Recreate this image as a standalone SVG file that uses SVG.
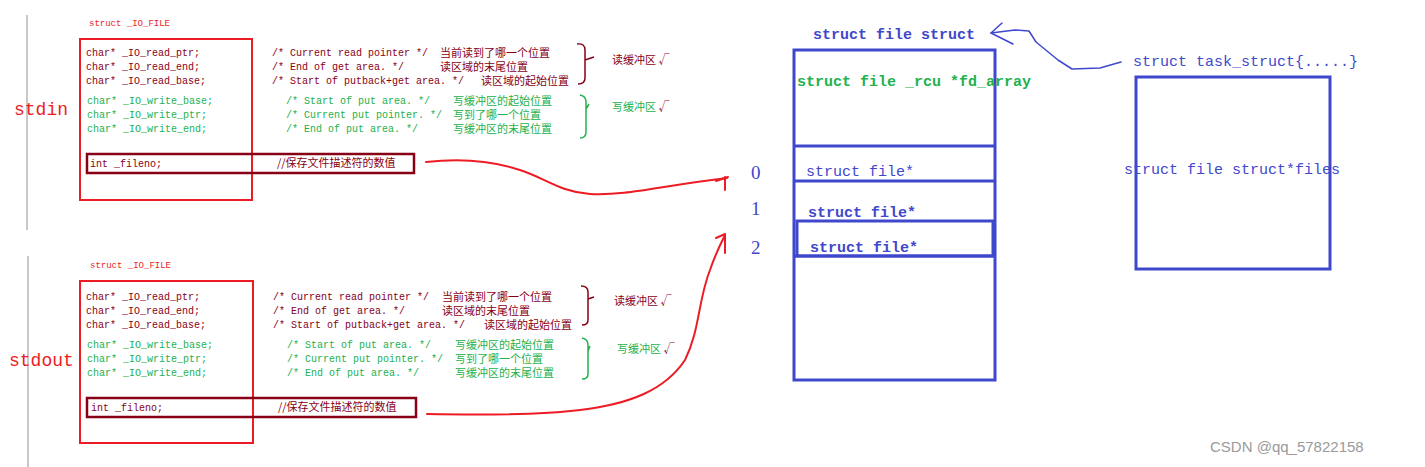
<svg xmlns="http://www.w3.org/2000/svg" width="1425" height="467" viewBox="0 0 1425 467">
<style>
.m{font-family:"Liberation Mono","DejaVu Sans Mono",monospace;font-size:10px}
.c{font-family:"Noto Sans CJK SC",sans-serif;font-size:11px}
.dr{fill:#880015}.g{fill:#22b14c}.r{fill:#ed1c24}.b{fill:#3f48cc}
.big{font-family:"Liberation Mono",monospace;font-size:18px}
.bl{font-family:"Liberation Mono",monospace;font-size:15px;fill:#3f48cc}
.num{font-family:"Liberation Serif",serif;font-size:19px;fill:#3f48cc}
.rbox{fill:none;stroke:#ed1c24;stroke-width:2}
.dbox{fill:none;stroke:#880015;stroke-width:2.5}
.bbox{fill:none;stroke:#3f48cc;stroke-width:3}
.rl{fill:none;stroke:#ed1c24;stroke-width:2;stroke-linecap:round;stroke-linejoin:round}
.blue{fill:none;stroke:#3f48cc;stroke-width:1.5;stroke-linecap:round;stroke-linejoin:round}
.brd{fill:none;stroke:#880015;stroke-width:1.5}
.brg{fill:none;stroke:#22b14c;stroke-width:1.5}
</style>
<rect width="1425" height="467" fill="#ffffff"/>
<line x1="27" y1="15" x2="27" y2="230" stroke="#c8c8c8" stroke-width="2"/>
<line x1="28" y1="256" x2="28" y2="467" stroke="#c8c8c8" stroke-width="2"/>

<g id="stdin">
<text x="14" y="115" class="big r">stdin</text>
<text x="89" y="26" class="m r" style="font-size:9px">struct _IO_FILE</text>
<rect x="80" y="39" width="172" height="161" class="rbox"/>
<text x="86" y="56" class="m dr">char* _IO_read_ptr;</text>
<text x="86" y="70" class="m dr">char* _IO_read_end;</text>
<text x="86" y="84" class="m dr">char* _IO_read_base;</text>
<text x="87" y="104" class="m g">char* _IO_write_base;</text>
<text x="87" y="118" class="m g">char* _IO_write_ptr;</text>
<text x="87" y="132" class="m g">char* _IO_write_end;</text>
<rect x="87" y="154" width="327" height="19" class="dbox"/>
<text x="90" y="167" class="m dr">int _fileno;</text>
<text x="277" y="167" class="c dr">//保存文件描述符的数值</text>
<text x="272" y="56" class="m dr">/* Current read pointer */</text>
<text x="272" y="70" class="m dr">/* End of get area. */</text>
<text x="272" y="84" class="m dr">/* Start of putback+get area. */</text>
<text x="440" y="57" class="c dr">当前读到了哪一个位置</text>
<text x="440" y="71" class="c dr">读区域的末尾位置</text>
<text x="481" y="85" class="c dr">读区域的起始位置</text>
<text x="286" y="104" class="m g">/* Start of put area. */</text>
<text x="286" y="118" class="m g">/* Current put pointer. */</text>
<text x="286" y="132" class="m g">/* End of put area. */</text>
<text x="453" y="105" class="c g">写缓冲区的起始位置</text>
<text x="453" y="119" class="c g">写到了哪一个位置</text>
<text x="453" y="133" class="c g">写缓冲区的末尾位置</text>
<path d="M577,44 Q585,43 585,50 L585,78 Q585,84 578,84 M585,60 L594,57" class="brd"/>
<path d="M580,95 Q586,96 586,102 L586,132 Q586,138 580,138 M586,109 L589,104" class="brg"/>
<text x="612" y="64" class="c dr">读缓冲区 √</text>
<text x="612" y="111" class="c g">写缓冲区 <tspan class="dr">√</tspan></text>
</g>

<g id="stdout">
<text x="9" y="366" class="big r">stdout</text>
<text x="90" y="268" class="m r" style="font-size:9px">struct _IO_FILE</text>
<rect x="80" y="281" width="173" height="162" class="rbox"/>
<text x="86" y="300" class="m dr">char* _IO_read_ptr;</text>
<text x="86" y="314" class="m dr">char* _IO_read_end;</text>
<text x="86" y="328" class="m dr">char* _IO_read_base;</text>
<text x="87" y="348" class="m g">char* _IO_write_base;</text>
<text x="87" y="362" class="m g">char* _IO_write_ptr;</text>
<text x="87" y="376" class="m g">char* _IO_write_end;</text>
<rect x="87" y="398" width="329" height="19" class="dbox"/>
<text x="91" y="411" class="m dr">int _fileno;</text>
<text x="278" y="411" class="c dr">//保存文件描述符的数值</text>
<text x="273" y="300" class="m dr">/* Current read pointer */</text>
<text x="273" y="314" class="m dr">/* End of get area. */</text>
<text x="273" y="328" class="m dr">/* Start of putback+get area. */</text>
<text x="442" y="301" class="c dr">当前读到了哪一个位置</text>
<text x="442" y="315" class="c dr">读区域的末尾位置</text>
<text x="484" y="329" class="c dr">读区域的起始位置</text>
<text x="287" y="348" class="m g">/* Start of put area. */</text>
<text x="287" y="362" class="m g">/* Current put pointer. */</text>
<text x="287" y="376" class="m g">/* End of put area. */</text>
<text x="455" y="349" class="c g">写缓冲区的起始位置</text>
<text x="455" y="363" class="c g">写到了哪一个位置</text>
<text x="455" y="377" class="c g">写缓冲区的末尾位置</text>
<path d="M581,286 Q588,286 588,292 L588,320 Q588,325 582,325 M588,299 L594,297" class="brd"/>
<path d="M582,338 Q588,339 588,345 L588,374 Q588,379 582,379 M588,351 L590,346" class="brg"/>
<text x="614" y="305" class="c dr">读缓冲区 √</text>
<text x="617" y="353" class="c g">写缓冲区 <tspan class="dr">√</tspan></text>
</g>

<g id="files_struct">
<text x="813" y="39" class="bl" style="font-weight:bold">struct file struct</text>
<rect x="794" y="50" width="201" height="330" class="bbox"/>
<text x="797" y="86" class="bl" style="fill:#22b14c;font-weight:bold">struct file _rcu *fd_array</text>
<line x1="794" y1="146" x2="995" y2="146" class="bbox"/>
<line x1="794" y1="181" x2="995" y2="181" class="bbox"/>
<rect x="797" y="221" width="196" height="35" class="bbox"/>
<line x1="794" y1="256" x2="995" y2="256" class="bbox"/>
<text x="806" y="176" class="bl">struct file*</text>
<text x="808" y="217" class="bl" style="font-weight:bold">struct file*</text>
<text x="810" y="252" class="bl" style="font-weight:bold">struct file*</text>
<text x="751" y="179" class="num">0</text>
<text x="751" y="215" class="num">1</text>
<text x="751" y="254" class="num">2</text>
</g>

<g id="task_struct">
<text x="1133" y="66" class="bl">struct task_struct{.....}</text>
<rect x="1136" y="77" width="194" height="192" class="bbox"/>
<text x="1124" y="174" class="bl">struct file struct*files</text>
</g>

<g id="connectors">
<path d="M1121,62 L1100,68 L1072,69 L1058,60 L1036,42 L1029,31 L1015,30 L991,33" class="blue"/>
<path d="M1002,23 L991,33 L1013,44" class="blue"/>
<path d="M426,162 C460,158 490,160 520,170 C545,178 560,192 590,194 C625,196 660,186 727,178" class="rl"/>
<path d="M716,181 L728,177 M725,177 L725,190" class="rl"/>
<path d="M427,414 C480,415 540,415 580,410 C630,404 665,390 685,360 C700,330 698,300 710,270 C715,255 720,245 725,235" class="rl"/>
<path d="M716,238 L725,234 L725,253" class="rl"/>
</g>

<text x="1210" y="452" style="font-family:'Liberation Sans',Arial,sans-serif;font-size:15px;fill:#9a9a9a">CSDN @qq_57822158</text>
</svg>
